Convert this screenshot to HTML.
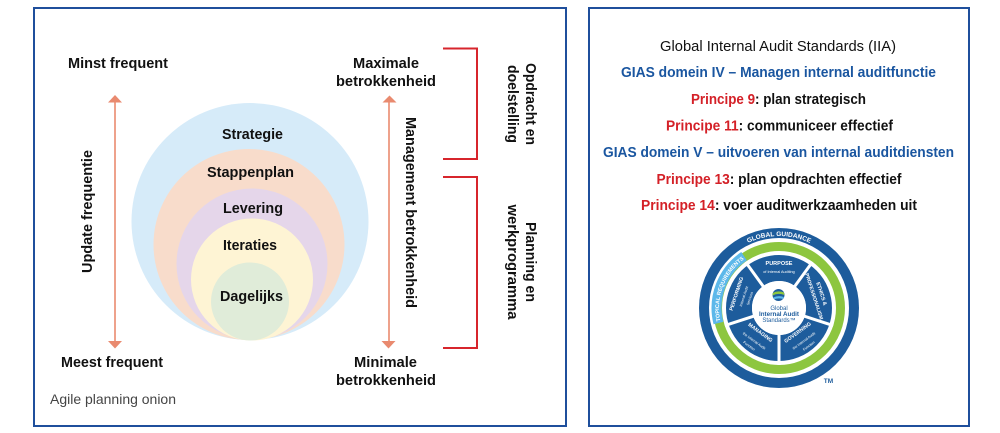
<!DOCTYPE html>
<html>
<head>
<meta charset="utf-8">
<style>
  html,body{margin:0;padding:0;background:#fff;}
  body{width:1000px;height:433px;overflow:hidden;}
  svg{display:block;}
  text{font-family:"Liberation Sans", sans-serif;}
</style>
</head>
<body>
<svg width="1000" height="433" viewBox="0 0 1000 433" xmlns="http://www.w3.org/2000/svg">
  <rect x="0" y="0" width="1000" height="433" fill="#ffffff"/>

  <!-- Panel borders -->
  <rect x="34" y="8" width="532" height="418" fill="none" stroke="#1f4f9c" stroke-width="2"/>
  <rect x="589" y="8" width="380" height="418" fill="none" stroke="#1f4f9c" stroke-width="2"/>

  <!-- Onion circles -->
  <circle cx="250" cy="221.5" r="118.5" fill="#d6ebf9"/>
  <circle cx="249" cy="244.5" r="95.5" fill="#f8dccb"/>
  <circle cx="252" cy="264" r="75.5" fill="#e5d6ea"/>
  <circle cx="252" cy="279.5" r="61" fill="#fef4d4"/>
  <circle cx="250" cy="301.5" r="39" fill="#e0ecd9"/>

  <g font-weight="bold" font-size="15" fill="#111" text-anchor="middle">
    <text x="252.5" y="139" textLength="61" lengthAdjust="spacingAndGlyphs">Strategie</text>
    <text x="250.5" y="177" textLength="87" lengthAdjust="spacingAndGlyphs">Stappenplan</text>
    <text x="253" y="213" textLength="60" lengthAdjust="spacingAndGlyphs">Levering</text>
    <text x="250" y="250" textLength="54" lengthAdjust="spacingAndGlyphs">Iteraties</text>
    <text x="251.5" y="301" textLength="63" lengthAdjust="spacingAndGlyphs">Dagelijks</text>

    <text x="118" y="68" textLength="100" lengthAdjust="spacingAndGlyphs">Minst frequent</text>
    <text x="112" y="367" textLength="102" lengthAdjust="spacingAndGlyphs">Meest frequent</text>

    <text x="386" y="68" textLength="66" lengthAdjust="spacingAndGlyphs">Maximale</text>
    <text x="386" y="86" textLength="100" lengthAdjust="spacingAndGlyphs">betrokkenheid</text>
    <text x="385.5" y="367" textLength="63" lengthAdjust="spacingAndGlyphs">Minimale</text>
    <text x="386" y="385" textLength="100" lengthAdjust="spacingAndGlyphs">betrokkenheid</text>

    <text transform="translate(92,211.5) rotate(-90)" x="0" y="0" textLength="123" lengthAdjust="spacingAndGlyphs">Update frequentie</text>
    <text transform="translate(406,212.5) rotate(90)" x="0" y="0" textLength="191" lengthAdjust="spacingAndGlyphs">Management betrokkenheid</text>

    <g transform="translate(526,104) rotate(90)">
      <text x="0" y="0" textLength="82" lengthAdjust="spacingAndGlyphs">Opdracht en</text>
      <text x="0" y="18" textLength="78" lengthAdjust="spacingAndGlyphs">doelstelling</text>
    </g>
    <g transform="translate(526,262) rotate(90)">
      <text x="0" y="0" textLength="80" lengthAdjust="spacingAndGlyphs">Planning en</text>
      <text x="0" y="18" textLength="115" lengthAdjust="spacingAndGlyphs">werkprogramma</text>
    </g>
  </g>

  <text x="50" y="404" font-size="14" fill="#444" textLength="126" lengthAdjust="spacingAndGlyphs">Agile planning onion</text>

  <!-- Arrows -->
  <g stroke="#e98a6f" stroke-width="1.6" fill="none">
    <line x1="115" y1="101" x2="115" y2="342"/>
    <line x1="389" y1="101" x2="389" y2="342"/>
  </g>
  <g fill="#e98a6f">
    <polygon points="115,95 108,102.5 122,102.5"/>
    <polygon points="115,348.5 108,341 122,341"/>
    <polygon points="389.5,95.5 382.5,102.5 396.5,102.5"/>
    <polygon points="388.5,348.5 381.5,341 395.5,341"/>
  </g>

  <!-- Red brackets -->
  <g stroke="#d7252c" stroke-width="2" fill="none">
    <polyline points="443,48.5 477,48.5 477,159 443,159"/>
    <polyline points="443,177 477,177 477,348 443,348"/>
  </g>

  <!-- Right panel text -->
  <g text-anchor="middle" font-size="14.5">
    <text x="778" y="51" fill="#111" textLength="236" lengthAdjust="spacingAndGlyphs">Global Internal Audit Standards (IIA)</text>
    <text x="778.5" y="77" fill="#1a56a0" font-weight="bold" textLength="315" lengthAdjust="spacingAndGlyphs">GIAS domein IV – Managen internal auditfunctie</text>
    <text x="778.5" y="104" font-weight="bold" fill="#111" textLength="175" lengthAdjust="spacingAndGlyphs"><tspan fill="#d42027">Principe 9</tspan>: plan strategisch</text>
    <text x="779.5" y="130.5" font-weight="bold" fill="#111" textLength="227" lengthAdjust="spacingAndGlyphs"><tspan fill="#d42027">Principe 11</tspan>: communiceer effectief</text>
    <text x="778.5" y="157" fill="#1a56a0" font-weight="bold" textLength="351" lengthAdjust="spacingAndGlyphs">GIAS domein V – uitvoeren van internal auditdiensten</text>
    <text x="779" y="184" font-weight="bold" fill="#111" textLength="245" lengthAdjust="spacingAndGlyphs"><tspan fill="#d42027">Principe 13</tspan>: plan opdrachten effectief</text>
    <text x="779" y="210" font-weight="bold" fill="#111" textLength="276" lengthAdjust="spacingAndGlyphs"><tspan fill="#d42027">Principe 14</tspan>: voer auditwerkzaamheden uit</text>
  </g>

  <!-- GIAS logo -->
  <g>
    <circle cx="779" cy="308" r="80" fill="#1d5c9c"/>
    <circle cx="779" cy="308" r="70" fill="#ffffff"/>
    <circle cx="779" cy="308" r="61.5" fill="none" stroke="#8dc63f" stroke-width="9"/>
    <path d="M718.4,323.1 A62.5,62.5 0 0 1 744.1,256.2" fill="none" stroke="#5cb8ea" stroke-width="10"/>
    <circle cx="779" cy="308" r="40" fill="none" stroke="#1d5c9c" stroke-width="26"/>
    <g stroke="#ffffff" stroke-width="3">
      <line x1="793.7" y1="287.8" x2="812.5" y2="261.9"/>
      <line x1="802.8" y1="315.7" x2="833.2" y2="325.6"/>
      <line x1="779" y1="333" x2="779" y2="365"/>
      <line x1="755.2" y1="315.7" x2="724.8" y2="325.6"/>
      <line x1="764.3" y1="287.8" x2="745.5" y2="261.9"/>
    </g>
    <circle cx="779" cy="308" r="27" fill="#ffffff"/>

    <defs>
      <path id="ggArc" d="M737.7,249 A72,72 0 0 1 820.3,249"/>
      <path id="trArc" d="M720.8,322.5 A60,60 0 0 1 745.4,258.3"/>
    </defs>
    <text font-size="6.5" font-weight="bold" fill="#ffffff" text-anchor="middle"><textPath href="#ggArc" startOffset="50%">GLOBAL GUIDANCE</textPath></text>
    <text font-size="5.5" font-weight="bold" fill="#ffffff" text-anchor="middle"><textPath href="#trArc" startOffset="50%">TOPICAL REQUIREMENTS</textPath></text>

    <!-- segment labels -->
    <g fill="#ffffff" text-anchor="middle" dominant-baseline="central">
      <text x="779" y="264" font-size="5.5" font-weight="bold">PURPOSE</text>
      <text x="779" y="272" font-size="3.8">of Internal Auditing</text>

      <g transform="translate(821,294) rotate(72)"><text font-size="5.2" font-weight="bold">ETHICS &amp;</text></g>
      <g transform="translate(813.5,296.5) rotate(72)"><text font-size="5" font-weight="bold">PROFESSIONALISM</text></g>

      <g transform="translate(798,333) rotate(-36)"><text font-size="5.2" font-weight="bold">GOVERNING</text></g>
      <g transform="translate(804,341) rotate(-36)"><text font-size="3.6">the Internal Audit</text></g>
      <g transform="translate(809,346) rotate(-36)"><text font-size="3.6">Function</text></g>

      <g transform="translate(760,333) rotate(36)"><text font-size="5.2" font-weight="bold">MANAGING</text></g>
      <g transform="translate(754,341) rotate(36)"><text font-size="3.6">the Internal Audit</text></g>
      <g transform="translate(749,346) rotate(36)"><text font-size="3.6">Function</text></g>

      <g transform="translate(737,294) rotate(-72)"><text font-size="5.2" font-weight="bold">PERFORMING</text></g>
      <g transform="translate(744,296.5) rotate(-72)"><text font-size="3.6">Internal Audit</text></g>
      <g transform="translate(750,298.5) rotate(-72)"><text font-size="3.6">Services</text></g>
    </g>

    <!-- center emblem -->
    <circle cx="778.5" cy="295" r="6" fill="#1d5c9c"/>
    <path d="M772.8,293 Q778,290 784,292.5 L784.3,295 Q778,292.5 772.6,295.5 Z" fill="#8dc63f"/>
    <path d="M773.2,297.5 Q778.5,295 783.8,297 L783,299 Q778,297.5 774.3,299.3 Z" fill="#5cb8ea"/>
    <g text-anchor="middle" fill="#1d5c9c">
      <text x="779" y="310" font-size="6">Global</text>
      <text x="779" y="316" font-size="6" font-weight="bold" textLength="40" lengthAdjust="spacingAndGlyphs">Internal Audit</text>
      <text x="779" y="322" font-size="6">Standards™</text>
    </g>
    <text x="828.5" y="383" font-size="6.5" font-weight="bold" fill="#1d5c9c" text-anchor="middle">TM</text>
  </g>
</svg>
</body>
</html>
